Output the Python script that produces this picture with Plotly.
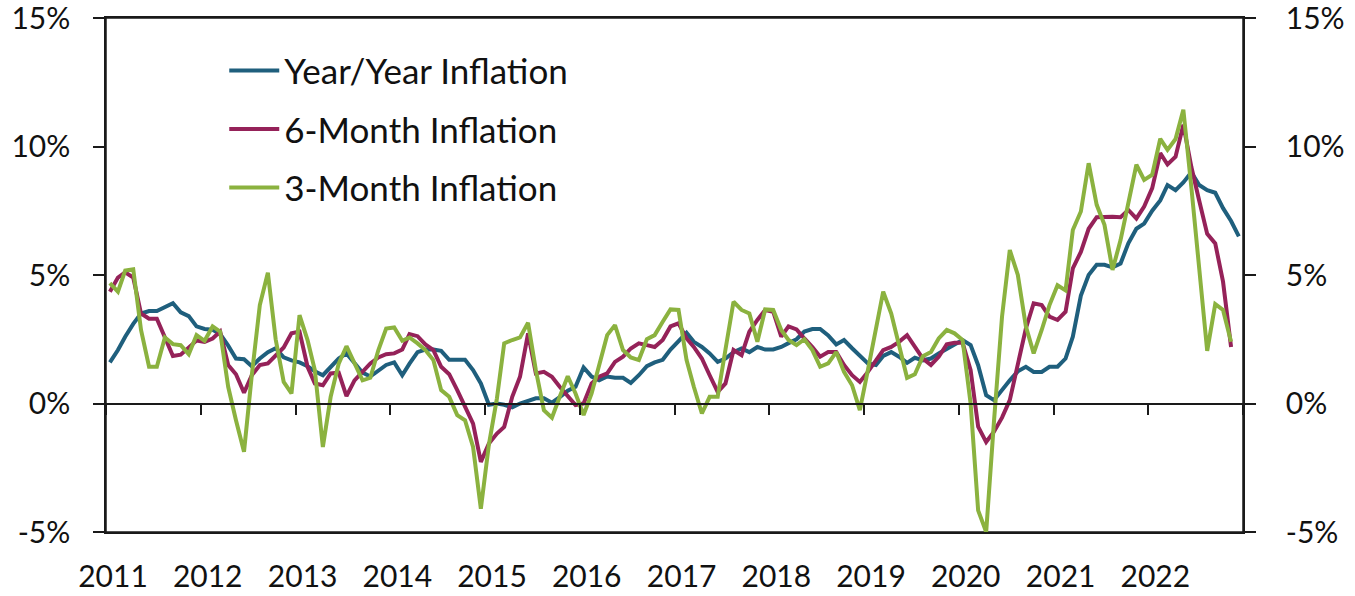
import pandas as pd
import plotly.graph_objects as go

# monthly readings, Jan 2011 onwards (percent, annualised)
year_over_year = [
    1.6, 2.08, 2.6, 3.1, 3.5, 3.6, 3.6, 3.75, 3.9, 3.55, 3.4, 3.0,
    2.9, 2.87, 2.7, 2.25, 1.75, 1.72, 1.45, 1.75, 2.0, 2.15, 1.8, 1.68,
    1.6, 1.45, 1.25, 1.1, 1.4, 1.75, 1.95, 1.55, 1.2, 1.05, 1.3, 1.5,
    1.6, 1.1, 1.55, 2.0, 2.1, 2.1, 2.05, 1.7, 1.7, 1.7, 1.3, 0.78,
    -0.05, 0.0, -0.05, -0.15, 0.0, 0.1, 0.2, 0.2, 0.03, 0.25, 0.5, 0.65,
    1.4, 1.05, 0.9, 1.05, 1.0, 1.0, 0.8, 1.1, 1.45, 1.6, 1.7, 2.1,
    2.45, 2.75, 2.4, 2.2, 1.95, 1.62, 1.75, 2.0, 2.14, 2.0, 2.2, 2.1,
    2.1, 2.2, 2.35, 2.5, 2.8, 2.9, 2.9, 2.65, 2.3, 2.47, 2.15, 1.85,
    1.56, 1.5, 1.85, 2.0, 1.82, 1.58, 1.78, 1.68, 1.75, 1.95, 2.15, 2.3,
    2.47, 2.27, 1.49, 0.32, 0.13, 0.55, 0.9, 1.25, 1.43, 1.23, 1.23, 1.43,
    1.43, 1.75, 2.6, 4.2, 5.0, 5.4, 5.4, 5.3, 5.45, 6.23, 6.8, 7.0,
    7.5, 7.9, 8.5, 8.3, 8.6, 9.0, 8.5, 8.3, 8.2, 7.6, 7.1, 6.5,
]

six_month = [
    4.35, 4.9, 5.1, 4.9, 3.5, 3.3, 3.3, 2.6, 1.85, 1.9, 2.2, 2.45,
    2.4, 2.53, 2.8, 1.5, 1.14, 0.42, 1.1, 1.5, 1.56, 1.84, 2.18, 2.73,
    2.8, 1.43, 0.78, 0.71, 1.17, 1.2, 0.29, 0.9, 1.23, 1.56, 1.79, 1.92,
    1.95, 2.1, 2.7, 2.62, 2.3, 2.08, 1.43, 1.14, 0.52, -0.13, -0.78, -2.27,
    -1.56, -1.17, -0.91, 0.26, 1.04, 2.73, 1.17, 1.23, 1.04, 0.65, 0.26, -0.06,
    0.0, 0.78, 1.04, 1.17, 1.62, 1.82, 2.14, 2.34, 2.27, 2.2, 2.47, 3.0,
    3.12, 2.53, 2.2, 1.75, 1.1, 0.45, 0.78, 2.08, 1.88, 2.8, 3.25, 3.64,
    3.57, 2.6, 3.0, 2.88, 2.53, 2.2, 1.82, 2.0, 2.0, 1.5, 1.1, 0.84,
    1.23, 1.69, 2.08, 2.2, 2.4, 2.66, 2.2, 1.75, 1.5, 1.82, 2.3, 2.36,
    2.36, 1.3, -0.9, -1.5, -1.1, -0.55, 0.13, 1.56, 2.92, 3.9, 3.83, 3.38,
    3.25, 3.57, 5.26, 5.9, 6.8, 7.25, 7.27, 7.27, 7.25, 7.53, 7.2, 7.66,
    8.38, 9.74, 9.3, 9.6, 10.85, 9.2, 7.9, 6.6, 6.23, 4.74, 2.2,
]

three_month = [
    4.68, 4.35, 5.17, 5.22, 2.86, 1.43, 1.43, 2.57, 2.31, 2.27, 1.92, 2.66,
    2.44, 3.0, 2.8, 0.65, -0.65, -1.88, 1.1, 3.83, 5.09, 2.5, 0.84, 0.39,
    3.44, 2.47, 1.3, -1.69, 0.26, 1.55, 2.23, 1.56, 0.9, 1.0, 2.08, 2.92,
    2.96, 2.44, 2.57, 2.34, 2.08, 1.69, 0.52, 0.26, -0.45, -0.65, -1.69, -4.1,
    -1.6, 0.2, 2.34, 2.47, 2.57, 3.14, 1.3, -0.26, -0.55, 0.26, 1.06, 0.39,
    -0.45, 0.39, 1.56, 2.66, 3.05, 2.08, 1.79, 1.69, 2.5, 2.66, 3.18, 3.66,
    3.64, 1.69, 0.65, -0.39, 0.26, 0.26, 2.1, 3.96, 3.64, 3.5, 2.4, 3.66,
    3.64, 2.86, 2.47, 2.27, 2.5, 2.08, 1.43, 1.56, 2.0, 1.23, 0.71, -0.26,
    1.3, 2.86, 4.35, 3.5, 2.26, 1.0, 1.14, 1.84, 2.0, 2.53, 2.86, 2.73,
    2.47, 0.0, -4.16, -5.0, -0.7, 3.37, 5.97, 5.0, 3.0, 1.95, 2.86, 3.83,
    4.6, 4.4, 6.75, 7.47, 9.35, 7.73, 6.95, 5.2, 6.36, 7.73, 9.29, 8.7,
    8.9, 10.3, 9.87, 10.29, 11.43, 8.4, 5.2, 2.05, 3.87, 3.64, 2.4,
]

years = list(range(2011, 2023))
pct_ticks = [-5, 0, 5, 10, 15]
pct_labels = ["-5%", "0%", "5%", "10%", "15%"]

# points sit mid-month on the date axis
months = pd.date_range("2011-01-01", periods=len(year_over_year), freq="MS") + pd.Timedelta(days=15)
year_ticks = [pd.Timestamp(f"{y}-01-01") for y in years + [2023]]
x_range = [pd.Timestamp("2011-01-01"), pd.Timestamp("2023-01-01")]

FONT = "Lato, Calibri, Arial, sans-serif"
AXIS_COLOR = "#1a1a1a"

series = [
    ("Year/Year Inflation", year_over_year, "#1f5f7d"),
    ("6-Month Inflation", six_month, "#952259"),
    ("3-Month Inflation", three_month, "#8bb23f"),
]

fig = go.Figure()
for i, (name, values, color) in enumerate(series):
    fig.add_trace(
        go.Scatter(
            x=months[: len(values)],
            y=values,
            name=name,
            mode="lines",
            line=dict(color=color, width=4),
            legendgroup=str(i),
        )
    )

# helper trace so the zero axis and right axis get drawn
fig.add_trace(
    go.Scatter(
        x=months,
        y=year_over_year,
        xaxis="x2",
        yaxis="y2",
        mode="lines",
        line=dict(width=0, color="rgba(0,0,0,0)"),
        showlegend=False,
        hoverinfo="skip",
    )
)

common_y = dict(
    range=[-5, 15],
    tickmode="array",
    tickvals=pct_ticks,
    ticktext=pct_labels,
    showgrid=False,
    zeroline=False,
    showline=True,
    linecolor=AXIS_COLOR,
    linewidth=1.5,
    ticks="outside",
    ticklen=11,
    tickwidth=1.5,
    tickcolor=AXIS_COLOR,
    automargin=False,
    ticklabeloverflow="allow",
    tickfont=dict(size=30, color="#111"),
)

fig.update_layout(
    width=1355,
    height=596,
    margin=dict(l=106, r=112, t=18, b=64),
    paper_bgcolor="white",
    plot_bgcolor="white",
    font=dict(family=FONT, color="#111"),
    showlegend=True,
    legend=dict(
        x=0.104,
        y=0.955,
        xanchor="left",
        yanchor="top",
        font=dict(size=35, color="#111"),
        bgcolor="rgba(0,0,0,0)",
        tracegroupgap=10,
        traceorder="grouped",
        itemwidth=50,
    ),
    xaxis=dict(
        type="date",
        range=x_range,
        tickmode="array",
        tickvals=year_ticks[:-1],
        ticktext=[str(y) for y in years],
        showgrid=False,
        zeroline=False,
        showline=True,
        mirror=True,
        linecolor=AXIS_COLOR,
        linewidth=1.5,
        ticks="",
        automargin=False,
        ticklabelstandoff=17,
        ticklabelshift=7,
        tickfont=dict(size=30, color="#111"),
    ),
    xaxis2=dict(
        type="date",
        range=x_range,
        overlaying="x",
        anchor="free",
        position=0.25,
        tickmode="array",
        tickvals=year_ticks,
        showticklabels=False,
        showgrid=False,
        zeroline=False,
        showline=True,
        linecolor=AXIS_COLOR,
        linewidth=1.5,
        ticks="outside",
        ticklen=11,
        tickwidth=1.5,
        tickcolor=AXIS_COLOR,
        automargin=False,
    ),
    yaxis=dict(side="left", ticklabelstandoff=17, **common_y),
    yaxis2=dict(side="right", overlaying="y", anchor="x", ticklabelstandoff=24, **common_y),
)

# plot frame (top and bottom borders)
fig.add_shape(
    type="rect", xref="paper", yref="paper", x0=0, x1=1, y0=0, y1=1,
    line=dict(color=AXIS_COLOR, width=1.5), layer="below",
)

# drop the default body margin so the figure sits at the page corner
fig.write_html(
    "out.html",
    config={"displayModeBar": False},
    post_script="document.body.style.margin = '0';",
)
